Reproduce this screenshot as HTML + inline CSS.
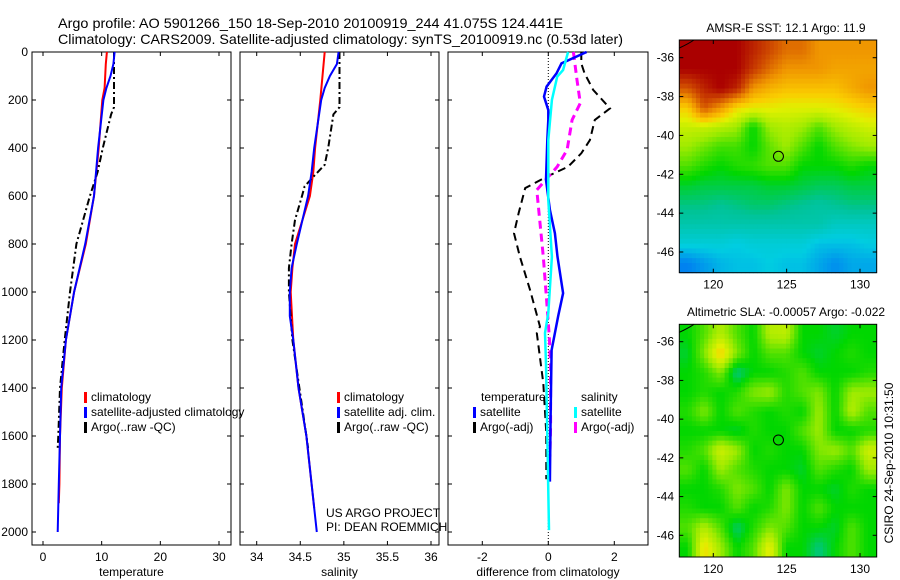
<!DOCTYPE html>
<html><head><meta charset="utf-8"><style>
body{margin:0;background:#fff;}
svg{display:block;font-family:"Liberation Sans",sans-serif;}
</style></head><body>
<svg id="fig" width="900" height="580" viewBox="0 0 900 580" xmlns="http://www.w3.org/2000/svg">
<text x="58" y="28" font-size="14" textLength="505" lengthAdjust="spacingAndGlyphs">Argo profile: AO 5901266_150 18-Sep-2010 20100919_244 41.075S 124.441E</text>
<text x="58" y="44" font-size="14" textLength="565" lengthAdjust="spacingAndGlyphs">Climatology: CARS2009. Satellite-adjusted climatology: synTS_20100919.nc (0.53d later)</text>
<text x="786" y="32" font-size="12" text-anchor="middle">AMSR-E SST: 12.1  Argo: 11.9</text>
<text x="786" y="316" font-size="12" text-anchor="middle">Altimetric SLA: -0.00057  Argo: -0.022</text>
<text x="0" y="0" font-size="12" text-anchor="middle" transform="translate(893,463) rotate(-90)">CSIRO 24-Sep-2010 10:31:50</text>
</svg>
<script>
// depth axis
const depthTicks=[0,200,400,600,800,1000,1200,1400,1600,1800,2000];
// temperature panel
const tempTicks=[0,10,20,30];
const tempClimDepth=[0,50,150,200,400,600,800,1000,1200,1400,1600,1800,1880];
const tempClim=[10.9,10.7,10.5,10.1,9.5,8.7,7.3,5.3,3.9,3.2,2.9,2.8,2.7];
const tempSatDepth=[0,50,100,150,200,400,600,800,1000,1200,1400,1600,1800,2000];
const tempSat=[12.2,12.0,11.5,10.8,10.3,9.4,8.7,7.2,5.3,3.9,3.1,2.9,2.7,2.5];
const tempArgoDepth=[0,230,260,400,500,600,800,1000,1200,1400,1600,1650];
const tempArgo=[12.1,12.1,11.6,10.2,9.3,8.0,5.7,4.6,3.7,2.9,2.6,2.5];
// salinity panel
const salTicks=[34,34.5,35,35.5,36];
const salTickLabels=["34","34.5","35","35.5","36"];
const salClimDepth=[0,200,400,500,600,800,900,1000,1200,1400,1600,1800,1900];
const salClim=[34.78,34.73,34.67,34.65,34.61,34.44,34.41,34.39,34.42,34.48,34.57,34.63,34.66];
const salSatDepth=[0,50,100,150,200,300,400,500,600,800,900,1000,1100,1200,1400,1600,1800,2000];
const salSat=[34.94,34.92,34.84,34.78,34.74,34.70,34.66,34.63,34.59,34.46,34.40,34.38,34.38,34.42,34.48,34.57,34.63,34.69];
const salArgoDepth=[0,230,260,400,470,520,560,600,700,800,900,1000,1200,1400,1600,1650];
const salArgo=[34.95,34.95,34.88,34.82,34.78,34.65,34.55,34.52,34.44,34.40,34.37,34.37,34.41,34.49,34.57,34.59];
// difference panel
const diffTicks=[-2,0,2];
const dTempSatDepth=[0,47,89,144,186,242,283,367,533,658,755,853,1005,1100,1242,1520,1790];
const dTempSat=[1.16,0.4,0.25,-0.05,-0.13,0,0,-0.03,-0.07,0.05,0.2,0.28,0.45,0.3,0.1,0.07,0.05];
const dSalSatDepth=[0,75,103,200,367,617,853,1088,1171,1300,1600,1992];
const dSalSat=[0.6,0.45,0.27,0.11,0,0,0.11,0,-0.1,-0.07,-0.03,0.02];
const dTempArgoDepth=[0,48,89,158,235,283,367,422,478,520,567,672,755,853,992,1144,1171,1380,1588,1780];
const dTempArgo=[1.0,1.0,1.1,1.36,1.87,1.41,1.26,1.0,0.6,-0.05,-0.7,-0.9,-1.04,-0.86,-0.55,-0.25,-0.35,-0.15,-0.06,-0.06];
const dSalArgoDepth=[0,117,213,283,408,478,575,644,853,1033,1186,1311,1561,1686];
const dSalArgo=[0.76,0.87,0.97,0.72,0.57,0.27,-0.35,-0.3,-0.15,-0.05,0.03,0.07,0.07,0.05];
// maps
const lonTicks=[120,125,130];
const latTicks=[-36,-38,-40,-42,-44,-46];
const sstGrid=[
[1.0,1.0,1.0,1.0,0.95,0.9,0.85,0.85,0.8,0.8,0.8,0.8],
[1.0,1.0,1.0,1.0,0.92,0.85,0.8,0.8,0.8,0.78,0.78,0.78],
[0.88,0.95,1.0,0.95,0.8,0.76,0.74,0.74,0.74,0.74,0.77,0.8],
[0.72,0.88,0.8,0.7,0.68,0.68,0.67,0.67,0.67,0.68,0.7,0.72],
[0.64,0.64,0.62,0.6,0.5,0.6,0.62,0.6,0.55,0.6,0.63,0.65],
[0.6,0.57,0.54,0.54,0.5,0.56,0.6,0.55,0.5,0.55,0.58,0.6],
[0.55,0.52,0.5,0.52,0.53,0.55,0.55,0.5,0.5,0.5,0.52,0.5],
[0.48,0.47,0.47,0.47,0.47,0.48,0.48,0.47,0.46,0.46,0.47,0.47],
[0.44,0.44,0.43,0.44,0.45,0.45,0.44,0.43,0.42,0.43,0.44,0.44],
[0.41,0.41,0.41,0.41,0.41,0.41,0.41,0.41,0.41,0.39,0.39,0.39],
[0.37,0.37,0.37,0.36,0.37,0.37,0.37,0.37,0.35,0.35,0.35,0.36],
[0.3,0.32,0.34,0.35,0.35,0.36,0.35,0.35,0.33,0.31,0.33,0.33]];
const slaGrid=[
[0.5,0.55,0.62,0.55,0.5,0.62,0.63,0.5,0.5,0.48,0.5,0.5],
[0.48,0.58,0.72,0.58,0.5,0.55,0.55,0.5,0.48,0.5,0.52,0.5],
[0.5,0.52,0.58,0.44,0.5,0.5,0.52,0.55,0.5,0.5,0.5,0.52],
[0.5,0.52,0.5,0.52,0.58,0.6,0.52,0.55,0.58,0.5,0.6,0.6],
[0.52,0.58,0.5,0.55,0.52,0.5,0.52,0.5,0.6,0.5,0.62,0.55],
[0.5,0.5,0.5,0.48,0.52,0.5,0.5,0.55,0.6,0.5,0.5,0.52],
[0.52,0.55,0.65,0.6,0.5,0.52,0.5,0.5,0.58,0.6,0.55,0.65],
[0.55,0.5,0.6,0.55,0.52,0.5,0.5,0.48,0.55,0.52,0.5,0.6],
[0.5,0.5,0.52,0.58,0.55,0.5,0.58,0.5,0.5,0.48,0.52,0.5],
[0.52,0.5,0.5,0.55,0.5,0.52,0.58,0.5,0.55,0.5,0.5,0.5],
[0.55,0.62,0.55,0.45,0.52,0.58,0.55,0.5,0.5,0.48,0.55,0.5],
[0.5,0.7,0.6,0.5,0.55,0.68,0.5,0.5,0.44,0.5,0.55,0.5]];
const floatLon=124.441, floatLat=-41.075;

const NS="http://www.w3.org/2000/svg";
const svg=document.getElementById('fig');
function mk(tag,attrs,parent){const e=document.createElementNS(NS,tag);for(const k in attrs)e.setAttribute(k,attrs[k]);(parent||svg).appendChild(e);return e;}
function lin(d0,d1,r0,r1){return v=>r0+(v-d0)*(r1-r0)/(d1-d0);}
const yD=lin(0,2000,52,532);

function panel(name,x0,x1,xs,ticks,labels,xlabel){
  const g=mk('g',{});
  
  
  const fr=mk('rect',{x:x0,y:52,width:x1-x0,height:493,fill:'none',stroke:'#000','stroke-width':1},g);
  
  
  ticks.forEach((t,i)=>{const x=xs(t);
    mk('line',{x1:x,y1:545,x2:x,y2:541,stroke:'#000'},g);
    mk('line',{x1:x,y1:52,x2:x,y2:56,stroke:'#000'},g);
    const tl=mk('text',{x:x,y:561,'font-size':12,'text-anchor':'middle'},g);tl.textContent=labels[i];
    
    
  });
  depthTicks.forEach(d=>{const y=yD(d);
    mk('line',{x1:x0,y1:y,x2:x0+4,y2:y,stroke:'#000'},g);
    mk('line',{x1:x1,y1:y,x2:x1-4,y2:y,stroke:'#000'},g);
  });
  const xl=mk('text',{x:(x0+x1)/2,y:576,'font-size':12,'text-anchor':'middle'},g);xl.textContent=xlabel;
  
  
  return g;
}
function series(g,name,depths,vals,xs,color,w,dash){
  const pts=depths.map((d,i)=>xs(vals[i]).toFixed(1)+','+yD(d).toFixed(1)).join(' ');
  const p=mk('polyline',{points:pts,fill:'none',stroke:color,'stroke-width':w},g);
  if(dash)p.setAttribute('stroke-dasharray',dash);
  
  
}
function legend(g,x,y,color,label,name){
  const b=mk('rect',{x:x,y:y-9,width:3,height:11,fill:color},g);
  
  
  const t=mk('text',{x:x+7,y:y,'font-size':12},g);t.textContent=label;
  
  
}

depthTicks.forEach(d=>{const t=mk('text',{x:28,y:yD(d)+4,'font-size':12,'text-anchor':'end'});t.textContent=d;
  
  });

const xT=lin(0,30,43,219);
const g1=panel('temperature-panel',32,231,xT,tempTicks,tempTicks.map(String),'temperature');
series(g1,'temp-climatology-line',tempClimDepth,tempClim,xT,'#f00',2);
series(g1,'temp-argo-line',tempArgoDepth,tempArgo,xT,'#000',2,'7,3,2,3');
series(g1,'temp-satellite-line',tempSatDepth,tempSat,xT,'#00f',2);
legend(g1,84,401,'#f00','climatology','legend-climatology');
legend(g1,84,416,'#00f','satellite-adjusted climatology','legend-satellite');
legend(g1,84,431,'#000','Argo(..raw -QC)','legend-argo');

const xS=lin(34,36,256.7,431);
const g2=panel('salinity-panel',240,439,xS,salTicks,salTickLabels,'salinity');
series(g2,'sal-climatology-line',salClimDepth,salClim,xS,'#f00',2);
series(g2,'sal-argo-line',salArgoDepth,salArgo,xS,'#000',2,'7,3,2,3');
series(g2,'sal-satellite-line',salSatDepth,salSat,xS,'#00f',2);
legend(g2,337,401,'#f00','climatology','legend-climatology');
legend(g2,337,416,'#00f','satellite adj. clim.','legend-satellite');
legend(g2,337,431,'#000','Argo(..raw -QC)','legend-argo');
const us=mk('text',{x:326,y:517,'font-size':12},g2);us.textContent='US ARGO PROJECT';


const pi=mk('text',{x:326,y:531,'font-size':12},g2);pi.textContent='PI: DEAN ROEMMICH';



const xDf=lin(0,2,548.3,614.3);
const g3=panel('difference-panel',448,648,xDf,diffTicks,diffTicks.map(String),'difference from climatology');
const zl=mk('line',{x1:xDf(0),y1:52,x2:xDf(0),y2:545,stroke:'#000','stroke-dasharray':'1,2','stroke-width':1},g3);


series(g3,'dtemp-argo-line',dTempArgoDepth,dTempArgo,xDf,'#000',2,'8,5');
series(g3,'dsal-argo-line',dSalArgoDepth,dSalArgo,xDf,'#f0f',3,'8,5');
series(g3,'dtemp-satellite-line',dTempSatDepth,dTempSat,xDf,'#00f',2.5);
series(g3,'dsal-satellite-line',dSalSatDepth,dSalSat,xDf,'#0ff',2.5);
const lt=mk('text',{x:481,y:401,'font-size':12},g3);lt.textContent='temperature';


const ls=mk('text',{x:581,y:401,'font-size':12},g3);ls.textContent='salinity';


legend(g3,473,416,'#00f','satellite','legend-temp-satellite');
legend(g3,473,431,'#000','Argo(-adj)','legend-temp-argo');
legend(g3,574,416,'#0ff','satellite','legend-sal-satellite');
legend(g3,574,431,'#f0f','Argo(-adj)','legend-sal-argo');

const cStops=[[0.2,[0,60,220]],[0.3,[0,130,240]],[0.36,[0,205,225]],[0.43,[0,195,150]],[0.5,[0,215,0]],[0.6,[160,235,0]],[0.67,[225,240,0]],[0.72,[250,205,0]],[0.8,[240,150,0]],[0.9,[205,70,0]],[1.0,[170,0,0]]];
function cmap(v){
  if(v<=cStops[0][0])return 'rgb('+cStops[0][1]+')';
  for(let i=1;i<cStops.length;i++){if(v<=cStops[i][0]){const a=cStops[i-1],b=cStops[i],f=(v-a[0])/(b[0]-a[0]);
    return 'rgb('+a[1].map((c,k)=>Math.round(c+(b[1][k]-c)*f)).join(',')+')';}}
  return 'rgb('+cStops[cStops.length-1][1]+')';
}
function sample(grid,r,c){
  // bilinear sample at fractional cell-centre coords
  const nr=grid.length,nc=grid[0].length;
  r=Math.max(0,Math.min(nr-1,r));c=Math.max(0,Math.min(nc-1,c));
  const r0=Math.floor(r),c0=Math.floor(c),r1=Math.min(nr-1,r0+1),c1=Math.min(nc-1,c0+1),fr=r-r0,fc=c-c0;
  return grid[r0][c0]*(1-fr)*(1-fc)+grid[r0][c1]*(1-fr)*fc+grid[r1][c0]*fr*(1-fc)+grid[r1][c1]*fr*fc;
}
function map(name,grid,yTop,yBot,lat36,lat46){
  const g=mk('g',{});
  
  
  const xL=lin(120,130,713.3,860), yL=lin(-36,-46,lat36,lat46);
  const lon0=117.7,lon1=131.1;
  const latTop=-36+(lat36-yTop)/((lat46-lat36)/10), latBot=-46-(yBot-lat46)/((lat46-lat36)/10);
  const nr=grid.length,nc=grid[0].length,dLon=(lon1-lon0)/nc,dLat=(latTop-latBot)/nr;
  const sub=4;
  for(let r=0;r<nr*sub;r++)for(let c=0;c<nc*sub;c++){
    const gr=(r+0.5)/sub-0.5,gc=(c+0.5)/sub-0.5;
    const v=sample(grid,gr,gc);
    const xa=xL(lon0+c*dLon/sub),xb=xL(lon0+(c+1)*dLon/sub),ya=yL(latTop-r*dLat/sub),yb=yL(latTop-(r+1)*dLat/sub);
    const cell=mk('rect',{x:xa.toFixed(2),y:ya.toFixed(2),width:(xb-xa+0.5).toFixed(2),height:(yb-ya+0.5).toFixed(2),fill:cmap(v)},g);
    
    
  }
  const f=mk('rect',{x:679.3,y:yTop,width:197.4,height:yBot-yTop,fill:'none',stroke:'#000'},g);
  
  
  mk('path',{d:'M679.3,'+(yTop+8)+' Q688,'+(yTop+4)+' 694,'+yTop,fill:'none',stroke:'#000','stroke-width':1},g);
  lonTicks.forEach(l=>{const x=xL(l);
    mk('line',{x1:x,y1:yBot,x2:x,y2:yBot-4,stroke:'#000'},g);
    mk('line',{x1:x,y1:yTop,x2:x,y2:yTop+4,stroke:'#000'},g);
    const t=mk('text',{x:x,y:yBot+16,'font-size':12,'text-anchor':'middle'},g);t.textContent=l;
    
    });
  latTicks.forEach(l=>{const y=yL(l);
    mk('line',{x1:679.3,y1:y,x2:683.3,y2:y,stroke:'#000'},g);
    mk('line',{x1:876.7,y1:y,x2:872.7,y2:y,stroke:'#000'},g);
    const t=mk('text',{x:674,y:y+4,'font-size':12,'text-anchor':'end'},g);t.textContent=l;
    
    });
  const m=mk('circle',{cx:xL(floatLon),cy:yL(floatLat),r:5,fill:'none',stroke:'#000'},g);
  
  
}
map('sst-map',sstGrid,40,272.7,57.7,252);
map('sla-map',slaGrid,324.3,557,341.7,535.3);
</script>
</body></html>
